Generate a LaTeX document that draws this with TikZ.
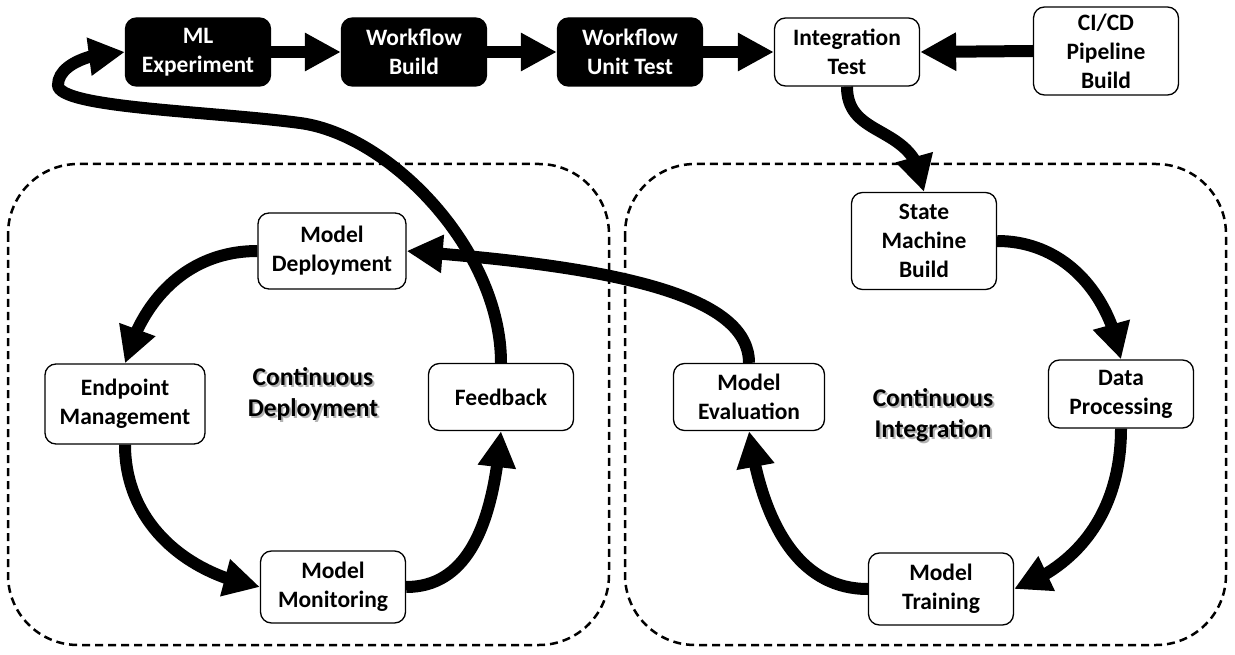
\documentclass[tikz,border=0pt]{standalone}
\usepackage{fontspec}
\setmainfont{Carlito}
\usetikzlibrary{arrows.meta,bending}

\newcommand\glowline[1]{\leavevmode\rlap{\kern2pt\raisebox{-2.5pt}{\textcolor{black!30}{#1}}}#1}

\tikzset{
  stage/.style={draw, line width=1.3pt, rounded corners=11pt, fill=white, align=center,
    font=\bfseries\fontsize{23.5}{29}\selectfont, minimum width=145pt, minimum height=68pt, inner sep=2pt},
  darkstage/.style={stage, fill=black, text=white},
  flow/.style={line width=12pt, -{Triangle[length=36pt,width=36pt]}},
  zone/.style={line width=2.5pt, dash pattern=on 8pt off 5pt, rounded corners=70pt},
  zonelabel/.style={align=center, font=\bfseries\fontsize{25.5}{31}\selectfont},
}

\begin{document}
\begin{tikzpicture}[x=1pt,y=1pt]
\useasboundingbox (0,0) rectangle (1235,-655);

% dashed areas
\draw[zone] (8,-164) rectangle (609,-645);
\draw[zone] (625,-164) rectangle (1226,-645);

\node[zonelabel] (cdlabel) at (313,-395) {\glowline{Continuous}\\\glowline{Deployment}};
\node[zonelabel] (cilabel) at (933,-416) {\glowline{Continuous}\\\glowline{Integration}};

% top row
\node[darkstage] (mlexp) at (198,-52) {ML\\Experiment};
\node[darkstage] (wfbuild) at (414,-52) {Workflow\\Build};
\node[darkstage] (wftest) at (630,-52) {Workflow\\Unit Test};
\node[stage] (itest) at (847,-52) {Integration\\Test};
\node[stage, minimum height=88pt] (cicd) at (1106,-51) {CI/CD\\Pipeline\\Build};

% deployment loop
\node[stage, minimum width=148pt, minimum height=76pt] (mdeploy) at (332,-251) {Model\\Deployment};
\node[stage, minimum width=160pt, minimum height=80pt] (endpoint) at (125,-404) {Endpoint\\Management};
\node[stage, minimum height=67pt] (feedback) at (501,-397) {Feedback};
\node[stage, minimum height=72pt] (monitor) at (333,-587) {Model\\Monitoring};

% integration loop
\node[stage, minimum height=97pt] (smbuild) at (924,-241) {State\\Machine\\Build};
\node[stage] (dataproc) at (1121,-394) {Data\\Processing};
\node[stage, minimum width=151pt, minimum height=67pt] (meval) at (749,-397) {Model\\Evaluation};
\node[stage, minimum height=72pt] (mtrain) at (941,-589) {Model\\Training};

% arrows
\draw[flow] (mlexp) -- (wfbuild);
\draw[flow] (wfbuild) -- (wftest);
\draw[flow] (wftest) -- (itest);
\draw[flow] (cicd.west) -- (itest.east);
\draw[flow] (itest.south) .. controls +(0,-55) and +(-5,70) .. (smbuild.north);

\draw[flow] (mdeploy.west) to[out=180,in=75] (endpoint.north);
\draw[flow] (endpoint.south) to[out=-90,in=170] (monitor.west);
\draw[flow] (monitor.east) to[out=0,in=-95] (feedback.south);
\draw[flow] (feedback.north) .. controls +(0,113) and (390,-135) .. (300,-123)
  .. controls (210,-111) and (58,-108) .. (58,-85)
  .. controls (58,-65) and (90,-52) .. (mlexp.west);

\draw[flow] (smbuild.east) to[out=0,in=100] (dataproc.north);
\draw[flow] (dataproc.south) to[out=-90,in=20] (mtrain.east);
\draw[flow] (mtrain.west) to[out=180,in=-82] (meval.south);
\draw[flow] (meval.north) .. controls +(0,70) and +(200,-15) .. (mdeploy.east);
\end{tikzpicture}
\end{document}
